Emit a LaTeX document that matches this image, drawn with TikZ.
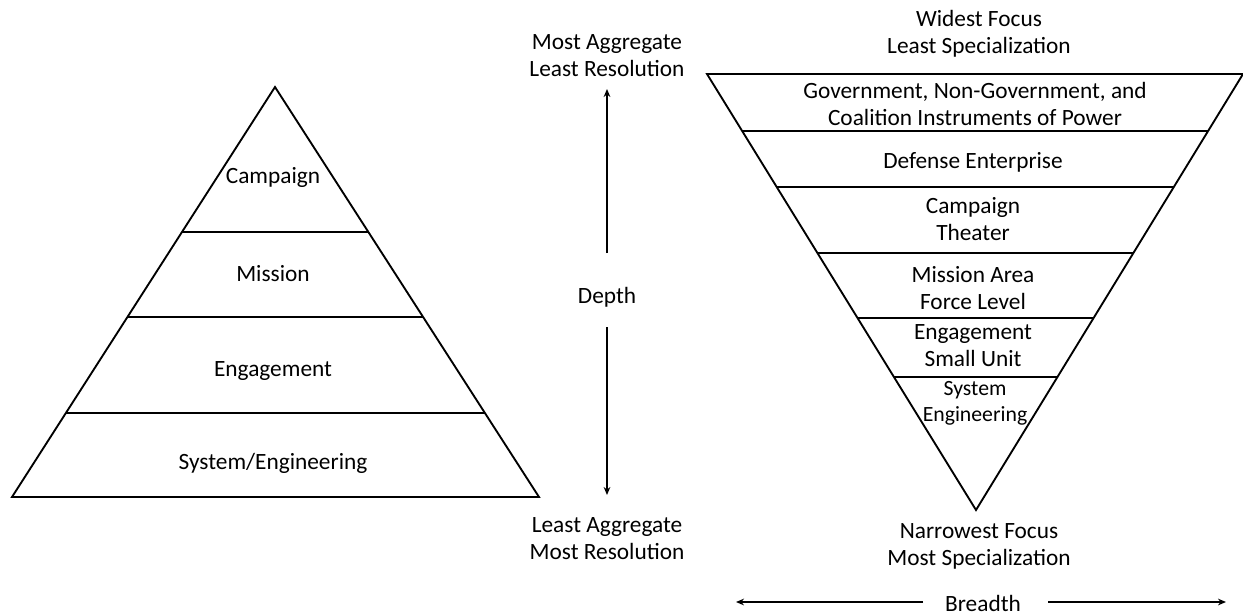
\documentclass[tikz,border=0pt]{standalone}
\usepackage{fontspec}
\setmainfont{Carlito}
\usetikzlibrary{arrows.meta}

\begin{document}
\begin{tikzpicture}[x=0.75pt, y=-0.75pt, >={Stealth[length=6pt,width=5pt]},
  every node/.style={font=\fontsize{17.5}{20.25}\selectfont, align=center, inner sep=0pt}]
\tikzset{
  tri/.style={line width=1.4pt, line join=miter},
  layer/.style={line width=1.4pt},
  smalltxt/.style={font=\fontsize{16.3}{19.5}\selectfont},
  axis/.style={line width=1.2pt}
}
\useasboundingbox (0,0) rectangle (1243,615);
% left pyramid
\coordinate (L1) at (275,87);
\coordinate (L2) at (12,497);
\coordinate (L3) at (539,497);
\draw[tri] (L1) -- (L2) -- (L3) -- cycle;
\begin{scope}
  \clip (L1) -- (L2) -- (L3) -- cycle;
  \foreach \y in {232,317,413} {
    \draw[layer] (0,\y) -- (560,\y);
  }
\end{scope}
\node (lcamp) at (273,177) {Campaign};
\node (lmiss) at (273,274) {Mission};
\node (leng) at (273,371) {Engagement};
\node (lsys) at (273,463) {System/Engineering};
% depth axis
\node (mostagg) at (607,56) {Most Aggregate\\Least Resolution};
\node (depth) at (607,297) {Depth};
\node (leastagg) at (607,539) {Least Aggregate\\Most Resolution};
\coordinate (upS) at (607,253);
\coordinate (upE) at (607,89);
\coordinate (dnS) at (607,327);
\coordinate (dnE) at (607,495);
\draw[axis,->] (upS) -- (upE);
\draw[axis,->] (dnS) -- (dnE);
% right funnel
\coordinate (R1) at (707,74);
\coordinate (R2) at (1243,74);
\coordinate (R3) at (976,510);
\draw[tri] (R1) -- (R2) -- (R3) -- cycle;
\begin{scope}
  \clip (R1) -- (R2) -- (R3) -- cycle;
  \foreach \y in {131,187,253,318,377} {
    \draw[layer] (700,\y) -- (1250,\y);
  }
\end{scope}
\node (widest) at (979,34) {Widest Focus\\Least Specialization};
\node (gov) at (975,104) {Government, Non-Government, and\\Coalition Instruments of Power};
\node (def) at (973,162) {Defense Enterprise};
\node (rcamp) at (973,219) {Campaign\\Theater};
\node (rmiss) at (973,288) {Mission Area\\Force Level};
\node (reng) at (973,346) {Engagement\\Small Unit};
\node[smalltxt] (rsys) at (975,403) {System\\Engineering};
\node (narrow) at (979,546) {Narrowest Focus\\Most Specialization};
% breadth axis
\node (breadth) at (983,603) {Breadth};
\coordinate (lfS) at (923,602);
\coordinate (lfE) at (736,602);
\coordinate (rtS) at (1048,602);
\coordinate (rtE) at (1226,602);
\draw[axis,->] (lfS) -- (lfE);
\draw[axis,->] (rtS) -- (rtE);
\end{tikzpicture}
\end{document}
